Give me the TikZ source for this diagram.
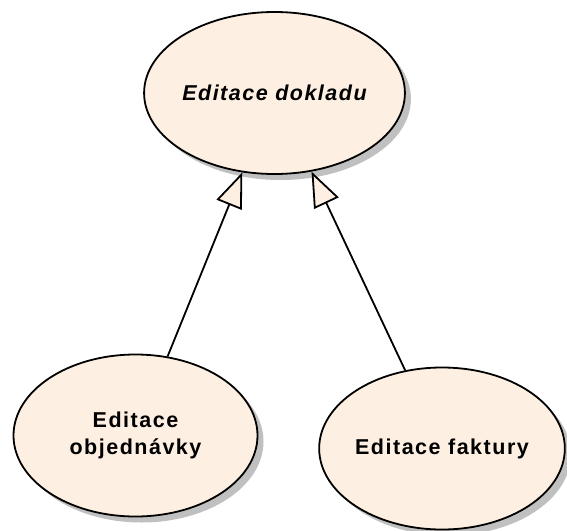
\documentclass[tikz,border=0pt]{standalone}
\usepackage{fontspec}
\setmainfont{Liberation Sans}[LetterSpace=7]
\usetikzlibrary{shapes.geometric,arrows.meta,shadows}
\definecolor{usecasefill}{RGB}{253,240,226}
\definecolor{shadowgray}{RGB}{192,192,192}
\newcommand\ucfont{\fontsize{21.5}{27}\selectfont\bfseries}
\begin{document}
\begin{tikzpicture}[x=1pt,y=-1pt,
  usecase/.style={ellipse, draw=black, line width=1.8pt, fill=usecasefill,
    minimum width=244pt, minimum height=162pt, inner sep=0pt, align=center,
    font=\ucfont,
    drop shadow={shadow xshift=6pt, shadow yshift=-6pt, fill=shadowgray, opacity=1}},
  generalize/.style={draw=black, line width=1.8pt,
    -{Triangle[width=27pt,length=35pt,fill=usecasefill]}}]
\useasboundingbox (0,0) rectangle (567,530);
% use cases
\node[usecase, font=\ucfont\itshape] (doklad) at (274.5,93) {Editace dokladu};
\node[usecase] (objednavka) at (135.5,435.5) {Editace\\objednávky};
\node[usecase] (faktura) at (442,448.5) {Editace faktury};
% generalizations
\draw[generalize] (objednavka) -- (doklad);
\draw[generalize] (faktura) -- (doklad);
\end{tikzpicture}
\end{document}
